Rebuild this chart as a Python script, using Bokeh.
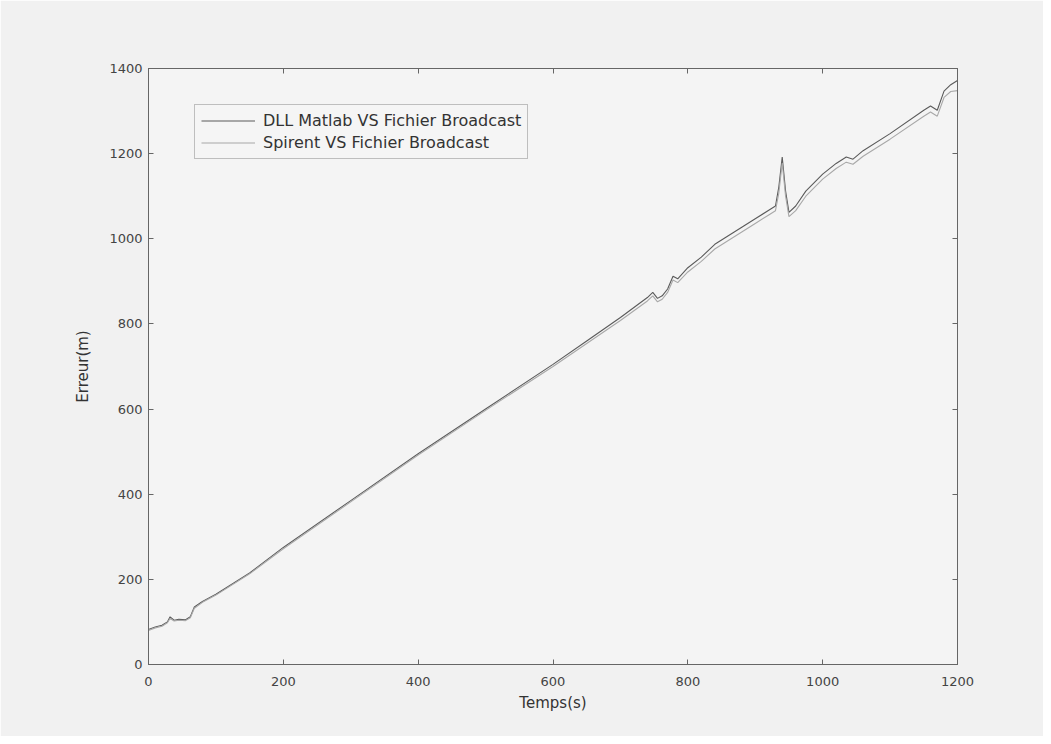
from bokeh.plotting import figure
from bokeh.models import LinearAxis, Legend, LegendItem, FixedTicker, Range1d
from bokeh.embed import file_html
from bokeh.resources import INLINE

t = [0, 10, 20, 28, 32, 38, 45, 55, 62, 68, 80, 100, 150, 200, 300, 400, 500,
     600, 650, 700, 740, 748, 755, 762, 770, 778, 785, 800, 820, 840, 860, 880,
     900, 920, 930, 935, 940, 945, 950, 960, 975, 1000, 1020, 1035, 1045, 1060,
     1100, 1150, 1160, 1170, 1180, 1190, 1200]
dll = [82, 88, 92, 100, 112, 104, 106, 105, 112, 135, 148, 165, 215, 275, 385,
       495, 600, 705, 760, 815, 862, 874, 860, 866, 882, 912, 906, 932, 957,
       987, 1007, 1027, 1047, 1067, 1077, 1122, 1192, 1112, 1062, 1077, 1112,
       1152, 1177, 1192, 1187, 1207, 1247, 1302, 1312, 1302, 1347, 1362, 1372]
spirent = [80, 86, 90, 98, 108, 102, 104, 103, 110, 132, 146, 163, 213, 272,
           382, 492, 597, 700, 754, 808, 854, 866, 852, 858, 874, 903, 897, 922,
           947, 976, 996, 1016, 1036, 1056, 1066, 1108, 1178, 1100, 1052, 1066,
           1100, 1140, 1165, 1180, 1175, 1194, 1234, 1288, 1298, 1288, 1332,
           1346, 1348]
xticks = [0, 200, 400, 600, 800, 1000, 1200]
yticks = [0, 200, 400, 600, 800, 1000, 1200, 1400]

FONT = "DejaVu Sans"
p = figure(width=1043, height=736, output_backend="svg", toolbar_location=None,
           x_range=Range1d(0, 1200), y_range=Range1d(0, 1400),
           min_border_left=148, min_border_right=86, min_border_top=68,
           min_border_bottom=72)
p.background_fill_color = "#f4f4f4"
p.border_fill_color = "#f1f1f1"
p.outline_line_color = "#666666"
p.outline_line_width = 1
p.grid.visible = False

r1 = p.line(t, dll, line_color="#5a5a5a", line_width=1.1)
r2 = p.line(t, spirent, line_color="#a8a8a8", line_width=1.1)

for ax in p.xaxis:
    ax.ticker = FixedTicker(ticks=xticks)
    ax.axis_label = "Temps(s)"
    ax.major_label_standoff = 12
    ax.axis_label_standoff = 5
for ax in p.yaxis:
    ax.ticker = FixedTicker(ticks=yticks)
    ax.axis_label = "Erreur(m)"
    ax.major_label_standoff = 6
    ax.axis_label_standoff = 14

for ax in list(p.xaxis) + list(p.yaxis):
    ax.major_tick_in = 5
    ax.major_tick_out = 0
    ax.minor_tick_in = 0
    ax.minor_tick_out = 0
    ax.axis_line_color = "#666666"
    ax.major_tick_line_color = "#666666"
    ax.major_label_text_font = FONT
    ax.major_label_text_font_size = "13px"
    ax.major_label_text_color = "#444444"
    ax.axis_label_text_font = FONT
    ax.axis_label_text_font_size = "15px"
    ax.axis_label_text_font_style = "normal"
    ax.axis_label_text_color = "#333333"

for loc, ticks in (("right", yticks), ("above", xticks)):
    a = LinearAxis(ticker=FixedTicker(ticks=ticks))
    a.major_tick_in = 5
    a.major_tick_out = 0
    a.minor_tick_in = 0
    a.minor_tick_out = 0
    a.axis_line_color = "#666666"
    a.major_tick_line_color = "#666666"
    a.major_label_text_color = None
    a.major_label_text_font_size = "1px"
    p.add_layout(a, loc)

legend = Legend(items=[
    LegendItem(label="DLL Matlab VS Fichier Broadcast", renderers=[r1]),
    LegendItem(label="Spirent VS Fichier Broadcast", renderers=[r2]),
], location=(46, 505))
legend.label_text_font = FONT
legend.label_text_font_size = "16px"
legend.label_text_color = "#333333"
legend.border_line_color = "#888888"
legend.background_fill_color = "#f4f4f4"
legend.glyph_width = 54
legend.glyph_height = 17
legend.label_height = 17
legend.label_standoff = 8
legend.spacing = 3
legend.padding = 6
legend.margin = 0
p.add_layout(legend, "center")

open("out.html", "w").write(file_html(p, INLINE))
